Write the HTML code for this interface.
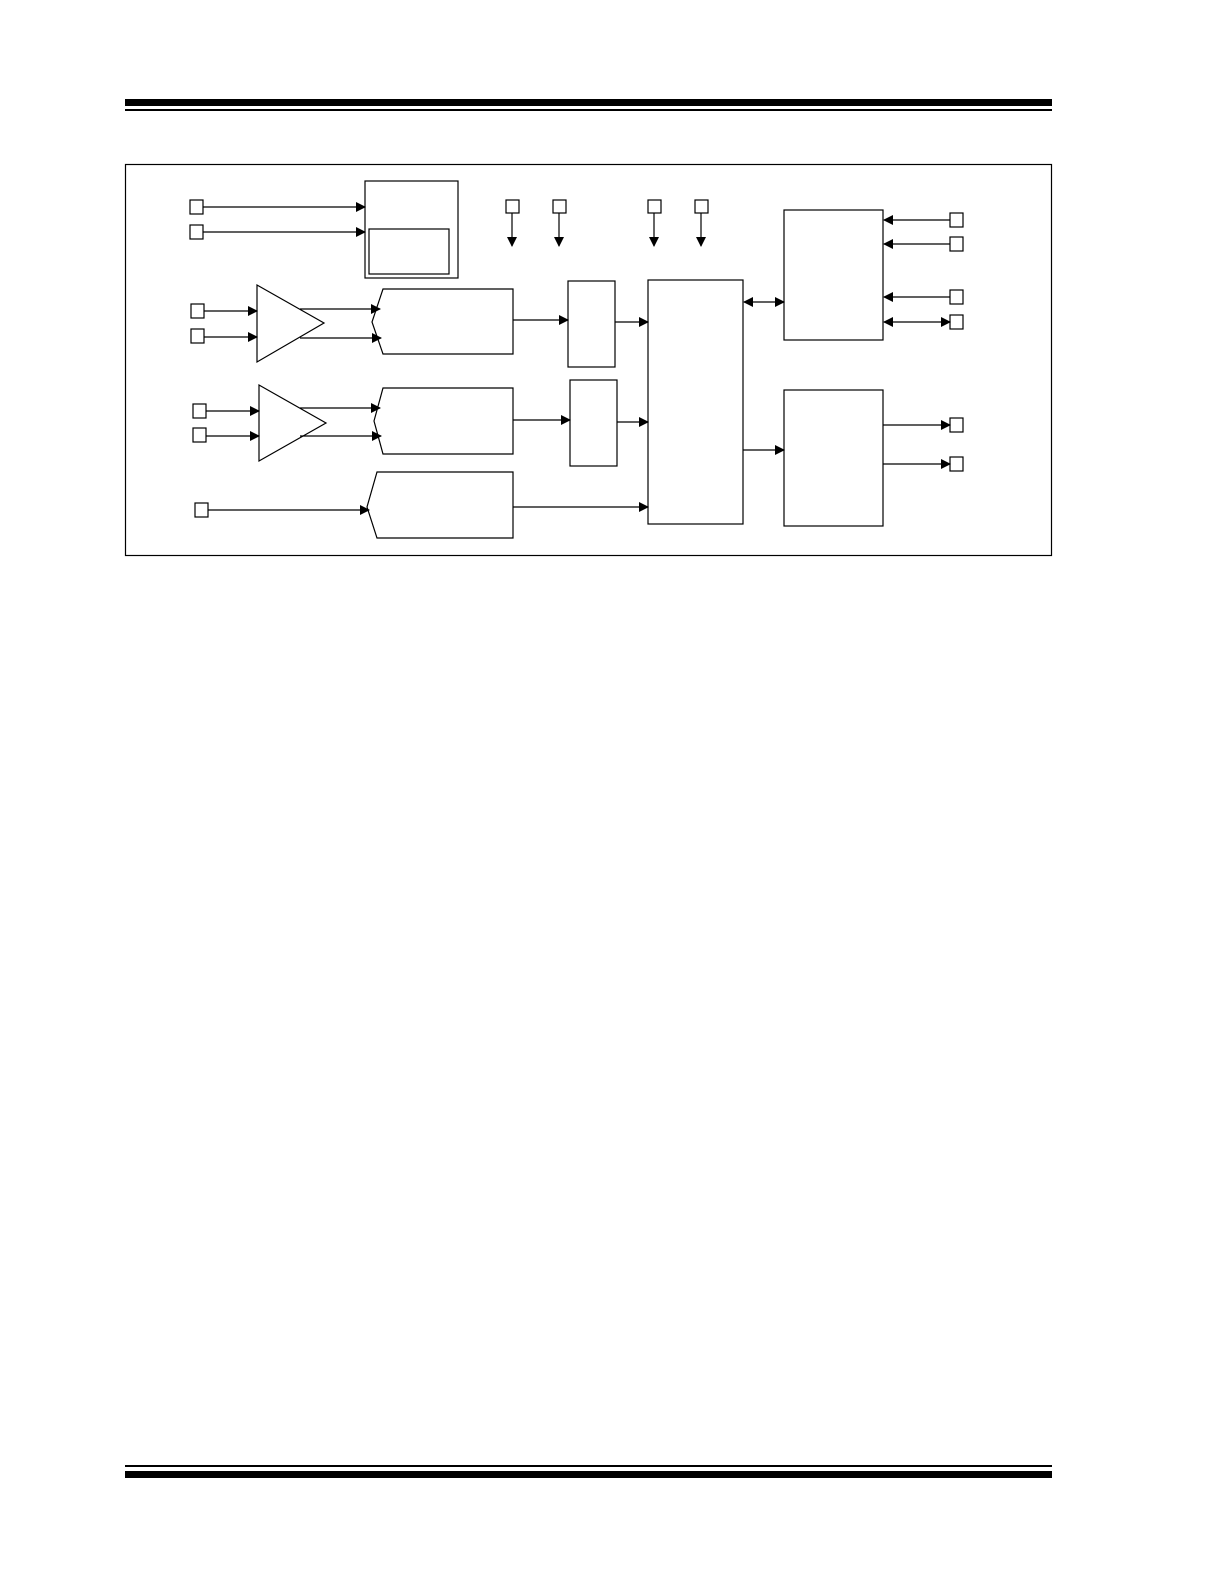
<!DOCTYPE html>
<html><head><style>html,body{margin:0;padding:0;background:#fff;width:1224px;height:1584px;overflow:hidden}svg{display:block;position:absolute;left:0;top:0}</style></head><body>
<svg width="1224" height="1584" viewBox="0 0 1224 1584" xmlns="http://www.w3.org/2000/svg">
<defs><marker id="a" markerWidth="10" markerHeight="10" refX="9" refY="5" orient="auto" markerUnits="userSpaceOnUse"><path d="M0,0 L10,5 L0,10 z" fill="#000"/></marker>
<marker id="b" markerWidth="10" markerHeight="10" refX="1" refY="5" orient="auto" markerUnits="userSpaceOnUse"><path d="M10,0 L0,5 L10,10 z" fill="#000"/></marker></defs>
<rect x="125" y="99" width="927" height="7" fill="#000"/>
<rect x="125" y="109" width="927" height="2" fill="#000"/>
<rect x="125" y="1465" width="927" height="2" fill="#000"/>
<rect x="125" y="1471" width="927" height="7" fill="#000"/>
<g fill="none" stroke="#000" stroke-width="1.2">
<rect x="125.5" y="164.5" width="926" height="391"/>
<rect x="365" y="181" width="93" height="97"/>
<rect x="369" y="229" width="80" height="45"/>
<polygon points="257,285 257,362 324,323" fill="#fff"/>
<polygon points="259,385 259,461 326,423" fill="#fff"/>
<polygon points="383,289 513,289 513,354 383,354 372,322"/>
<polygon points="383,388 513,388 513,454 383,454 374,421"/>
<polygon points="377,472 513,472 513,538 377,538 367,507"/>
<rect x="568" y="281" width="47" height="86"/>
<rect x="570" y="380" width="47" height="86"/>
<rect x="648" y="280" width="95" height="244"/>
<rect x="784" y="210" width="99" height="130"/>
<rect x="784" y="390" width="99" height="136"/>
<rect x="190" y="200" width="13" height="14"/><rect x="190" y="225" width="13" height="14"/>
<rect x="191" y="304" width="13" height="14"/><rect x="191" y="329" width="13" height="14"/>
<rect x="193" y="404" width="13" height="14"/><rect x="193" y="428" width="13" height="14"/>
<rect x="195" y="503" width="13" height="14"/>
<rect x="506" y="200" width="13" height="13"/><rect x="553" y="200" width="13" height="13"/>
<rect x="648" y="200" width="13" height="13"/><rect x="695" y="200" width="13" height="13"/>
<rect x="950" y="213" width="13" height="14"/><rect x="950" y="237" width="13" height="14"/>
<rect x="950" y="290" width="13" height="14"/><rect x="950" y="315" width="13" height="14"/>
<rect x="950" y="418" width="13" height="14"/><rect x="950" y="457" width="13" height="14"/>
</g>
<g stroke="#000" stroke-width="1.2" marker-end="url(#a)">
<line x1="203" y1="207" x2="365" y2="207"/><line x1="203" y1="232" x2="365" y2="232"/>
<line x1="204" y1="311" x2="257" y2="311"/><line x1="204" y1="337" x2="257" y2="337"/>
<line x1="206" y1="411" x2="259" y2="411"/><line x1="206" y1="436" x2="259" y2="436"/>
<line x1="300" y1="309" x2="380" y2="309"/><line x1="300" y1="338" x2="381" y2="338"/>
<line x1="300" y1="408" x2="380" y2="408"/><line x1="300" y1="436" x2="381" y2="436"/>
<line x1="208" y1="510" x2="369" y2="510"/>
<line x1="513" y1="320" x2="568" y2="320"/><line x1="513" y1="420" x2="570" y2="420"/>
<line x1="615" y1="322" x2="648" y2="322"/><line x1="617" y1="422" x2="648" y2="422"/>
<line x1="513" y1="507" x2="648" y2="507"/>
<line x1="512" y1="213" x2="512" y2="246"/><line x1="559" y1="213" x2="559" y2="246"/>
<line x1="654" y1="213" x2="654" y2="246"/><line x1="701" y1="213" x2="701" y2="246"/>
<line x1="950" y1="220" x2="884" y2="220"/><line x1="950" y1="244" x2="884" y2="244"/>
<line x1="950" y1="297" x2="884" y2="297"/>
<line x1="743" y1="450" x2="784" y2="450"/>
<line x1="883" y1="425" x2="950" y2="425"/><line x1="883" y1="464" x2="950" y2="464"/>
<line x1="884" y1="322" x2="950" y2="322" marker-start="url(#b)"/>
<line x1="744" y1="302" x2="784" y2="302" marker-start="url(#b)"/>
</g>
</svg>
</body></html>
